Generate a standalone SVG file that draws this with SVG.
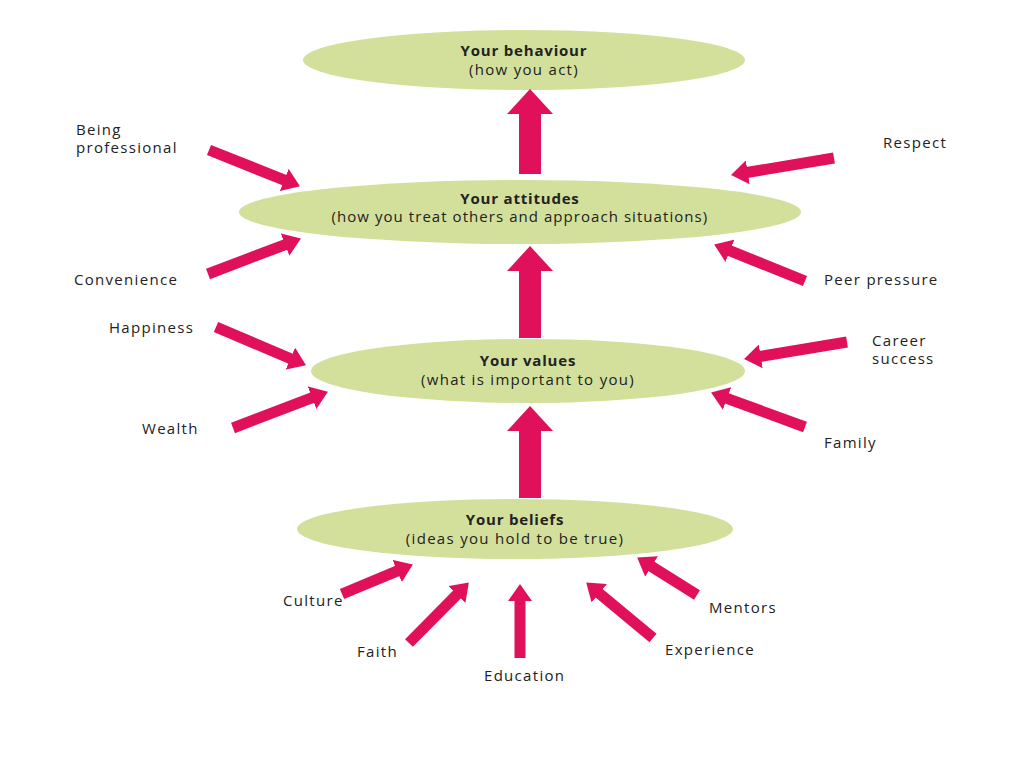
<svg xmlns="http://www.w3.org/2000/svg" width="1024" height="768" viewBox="0 0 1024 768">
<style>
  .node ellipse { fill: #d2e09c; }
  text { font-family: "Open Sans", "Liberation Sans", sans-serif; font-size: 15px; fill: #222; letter-spacing: 1.3px; }
  .title { font-weight: bold; letter-spacing: 0.8px; }
  .c { text-anchor: middle; }
  .thin { stroke: #e0115a; stroke-width: 11; fill: none; }
  .thick { stroke: #e0115a; stroke-width: 22; fill: none; }
</style>
<defs>
  <marker id="head" markerUnits="userSpaceOnUse" markerWidth="17" markerHeight="24" viewBox="0 0 17 24" refX="1" refY="12" orient="auto">
    <path d="M0,0 L17,12 L0,24 z" fill="#e0115a"/>
  </marker>
  <marker id="bighead" markerUnits="userSpaceOnUse" markerWidth="25" markerHeight="46" viewBox="0 0 25 46" refX="1" refY="23" orient="auto">
    <path d="M0,0 L25,23 L0,46 z" fill="#e0115a"/>
  </marker>
</defs>
<rect width="1024" height="768" fill="#ffffff"/>

<g id="node-behaviour" class="node">
  <ellipse cx="524" cy="60" rx="221" ry="30"/>
  <text x="524" y="56" class="c title">Your behaviour</text>
  <text x="524" y="75" class="c">(how you act)</text>
</g>
<g id="node-attitudes" class="node">
  <ellipse cx="520" cy="212" rx="281" ry="32"/>
  <text x="520" y="204" class="c title">Your attitudes</text>
  <text x="520" y="222" class="c" textLength="377" lengthAdjust="spacing">(how you treat others and approach situations)</text>
</g>
<g id="node-values" class="node">
  <ellipse cx="528" cy="371" rx="217" ry="32"/>
  <text x="528" y="366" class="c title">Your values</text>
  <text x="528" y="385" class="c">(what is important to you)</text>
</g>
<g id="node-beliefs" class="node">
  <ellipse cx="515" cy="529" rx="218" ry="30"/>
  <text x="515" y="525" class="c title">Your beliefs</text>
  <text x="515" y="544" class="c">(ideas you hold to be true)</text>
</g>

<g id="labels">
  <text x="76" y="135">Being</text>
  <text x="76" y="153">professional</text>
  <text x="74" y="285">Convenience</text>
  <text x="883" y="148">Respect</text>
  <text x="824" y="285">Peer pressure</text>
  <text x="109" y="333">Happiness</text>
  <text x="142" y="434">Wealth</text>
  <text x="872" y="346">Career</text>
  <text x="872" y="364">success</text>
  <text x="824" y="448">Family</text>
  <text x="283" y="606">Culture</text>
  <text x="357" y="657">Faith</text>
  <text x="484" y="681">Education</text>
  <text x="665" y="655">Experience</text>
  <text x="709" y="613">Mentors</text>
</g>

<g id="connectors">
  <line class="thick" x1="530" y1="174" x2="530" y2="113" marker-end="url(#bighead)"/>
  <line class="thick" x1="530" y1="338" x2="530" y2="270" marker-end="url(#bighead)"/>
  <line class="thick" x1="530" y1="498" x2="530" y2="430" marker-end="url(#bighead)"/>

  <line class="thin" x1="209" y1="150" x2="285.1" y2="180.4" marker-end="url(#head)"/>
  <line class="thin" x1="208" y1="274" x2="286.0" y2="244.3" marker-end="url(#head)"/>
  <line class="thin" x1="834" y1="158" x2="746.8" y2="172.5" marker-end="url(#head)"/>
  <line class="thin" x1="805" y1="281" x2="729.0" y2="250.4" marker-end="url(#head)"/>
  <line class="thin" x1="216" y1="327" x2="291.3" y2="359.0" marker-end="url(#head)"/>
  <line class="thin" x1="233" y1="428" x2="313.0" y2="397.4" marker-end="url(#head)"/>
  <line class="thin" x1="847" y1="342" x2="759.8" y2="356.5" marker-end="url(#head)"/>
  <line class="thin" x1="805" y1="427" x2="726.1" y2="398.1" marker-end="url(#head)"/>
  <line class="thin" x1="342" y1="594" x2="398.1" y2="570.6" marker-end="url(#head)"/>
  <line class="thin" x1="409" y1="643" x2="457.6" y2="593.8" marker-end="url(#head)"/>
  <line class="thin" x1="520" y1="658" x2="520" y2="600" marker-end="url(#head)"/>
  <line class="thin" x1="653" y1="638" x2="598.5" y2="592.7" marker-end="url(#head)"/>
  <line class="thin" x1="697" y1="595" x2="650.7" y2="566.0" marker-end="url(#head)"/>
</g>
</svg>
